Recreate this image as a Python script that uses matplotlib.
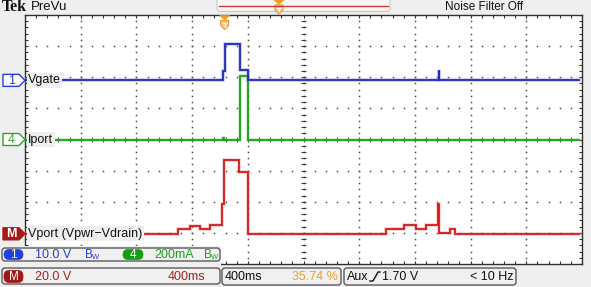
import matplotlib
matplotlib.use('Agg')
import matplotlib.pyplot as plt
import numpy as np
from matplotlib.patches import FancyBboxPatch, Polygon, Rectangle

# ---------------- data ----------------
ms_per_div = 400
n_xdiv = 10
n_ydiv = 8

# Vgate (channel 1), volts
vgate_t = [0, 1419, 1434, 1541, 1598, 2970, 2976, 3980]
vgate_v = [0, 2.9, 11.6, 3.2, 0, 3.2, 0, 0]
vgate_scale = 10.0
vgate_ground = 5.9

# Iport (channel 4), mA
iport_t = [0, 1419, 1427, 1541, 1598, 3980]
iport_ma = [0, 10, 0, 406, 0, 0]
iport_scale = 200.0
iport_ground = 4.0

# Vport (math), volts
vport_t = [0, 1097, 1183, 1254, 1326, 1415, 1427, 1534, 1598,
           2595, 2724, 2810, 2882, 2969, 2976, 3054, 3089, 3980]
vport_v = [0, 3.2, 5.2, 3.2, 5.8, 19.4, 47.7, 40.0, 0,
           3.0, 5.6, 3.2, 5.8, 19.4, 0.5, 3.2, 0, 0]
vport_scale = 20.0
vport_ground = 0.97

ch_names = ['Vgate', 'Iport', 'Vport (Vpwr\u2212Vdrain)']
ch_tags = ['1', '4', 'M']
row1_texts = ['10.0 V', '200mA']
row2_texts = ['20.0 V', '400ms']
horiz_texts = ['400ms', '35.74 %']
trig_texts = ['Aux', '1.70 V', '< 10 Hz']
trigger_ms = 1434

# ---------------- style ----------------
FONT = ['Liberation Sans Narrow', 'Liberation Sans', 'DejaVu Sans']
BG = '#efefef'
BLUE = '#1e2cb8'; BLUE_H = '#7a88e8'
GREEN = '#1b9e1b'; GREEN_H = '#86d486'
RED = '#d41a1a'; RED_H = '#f09090'
ORANGE = '#f0a020'

fig = plt.figure(figsize=(5.91, 2.87), dpi=100, facecolor=BG)
W, H = 591, 287
L, T, R, B = 25, 15, 582, 264
ax = fig.add_axes([L / W, 1 - B / H, (R - L) / W, (B - T) / H])
ax.set_facecolor('white')
ax.set_xlim(0, ms_per_div * n_xdiv)
ax.set_ylim(0, n_ydiv)
ax.set_xticks([]); ax.set_yticks([])
for s in ax.spines.values():
    s.set_color('#303030'); s.set_linewidth(1.0)

xmax = ms_per_div * n_xdiv
ys_minor = np.arange(0, n_ydiv + 0.001, 0.2)
xs_minor = np.arange(0, xmax + 0.1, ms_per_div / 5)
# graticule dots
for k in range(1, n_xdiv):
    ax.plot(np.full_like(ys_minor, k * ms_per_div), ys_minor, ls='none',
            marker='s', ms=1.1, mew=0, color='#505050', zorder=1)
for j in range(1, n_ydiv):
    ax.plot(xs_minor, np.full_like(xs_minor, j), ls='none',
            marker='s', ms=1.1, mew=0, color='#505050', zorder=1)
# center cross ticks
cx = xmax / 2
ax.hlines(ys_minor, cx - 16, cx + 16, color='#404040', lw=0.8, zorder=1)
ax.vlines(xs_minor, n_ydiv / 2 - 0.07, n_ydiv / 2 + 0.07, color='#404040', lw=0.8, zorder=1)
# border ticks
tl_x = 22
tl_y = 0.1
ax.vlines(xs_minor, n_ydiv - tl_y, n_ydiv, color='#303030', lw=0.8)
ax.vlines(xs_minor, 0, tl_y, color='#303030', lw=0.8)
ax.hlines(ys_minor, 0, tl_x, color='#303030', lw=0.8)
ax.hlines(ys_minor, xmax - tl_x, xmax, color='#303030', lw=0.8)


def trace(t, v, scale, ground, c, ch):
    y = ground + np.asarray(v) / scale
    ax.step(t, y, where='post', color=ch, lw=2.6, alpha=0.45, zorder=3,
            solid_joinstyle='miter')
    ax.step(t, y, where='post', color=c, lw=1.3, zorder=4,
            solid_joinstyle='miter')


trace(vport_t, vport_v, vport_scale, vport_ground, RED, RED_H)
trace(iport_t, iport_ma, iport_scale, iport_ground, GREEN, GREEN_H)
trace(vgate_t, vgate_v, vgate_scale, vgate_ground, BLUE, BLUE_H)

# ---------------- overlay ----------------
ov = fig.add_axes([0, 0, 1, 1], zorder=5)
ov.set_xlim(0, W); ov.set_ylim(H, 0)
ov.axis('off')
ov.patch.set_alpha(0)

# top bar
ov.text(2, 7, 'Tek', family=['Liberation Serif', 'DejaVu Serif'], weight='bold',
        fontsize=11.5, va='center', ha='left', color='#111')
ov.text(31, 7.5, 'PreVu', family=FONT, fontsize=9.5, va='center', ha='left', color='#111')
ov.text(523, 6.5, 'Noise Filter Off', family=FONT, fontsize=8.5, va='center',
        ha='right', color='#111')
ov.add_patch(FancyBboxPatch((217, -4), 173, 15.5, boxstyle='round,pad=0,rounding_size=3',
                            fc='#f6f6f6', ec='#c8c8c8', lw=0.8))
ov.plot([219, 388], [6, 6], color='#cc3a3a', lw=1.0)


def marker(x, y0):
    ov.add_patch(Polygon([(x - 5, y0), (x + 5, y0), (x, y0 + 4.5)], closed=True,
                         fc=ORANGE, ec=ORANGE, lw=0.5))
    ov.add_patch(Polygon([(x - 4, y0 + 5), (x + 4, y0 + 5), (x + 4, y0 + 10),
                          (x, y0 + 14), (x - 4, y0 + 10)], closed=True,
                         fc='#f8c890', ec='#e89a30', lw=0.8))
    ov.plot([x - 2, x + 2], [y0 + 7.5, y0 + 7.5], color='white', lw=0.8)
    ov.plot([x, x], [y0 + 7.5, y0 + 11], color='white', lw=0.8)


marker(279, 0)
trig_px = L + trigger_ms / xmax * (R - L)
marker(trig_px, 15.5)

# channel markers and labels
grounds = [vgate_ground, iport_ground, vport_ground]
edge_cols = ['#2a3ae0', '#30a030', '#a81818']
fills = ['white', 'white', '#a81818']
tcols = ['#2a3ae0', '#30a030', 'white']
for name, tag, g, ec, fc, tc in zip(ch_names, ch_tags, grounds, edge_cols, fills, tcols):
    yc = B - g / n_ydiv * (B - T)
    ov.add_patch(Polygon([(3, yc - 6), (19, yc - 6), (25, yc), (19, yc + 6), (3, yc + 6)],
                         closed=True, fc=fc, ec=ec, lw=1.0))
    ov.text(11.5, yc + 0.5, tag, family=FONT, fontsize=9, color=tc, ha='center', va='center',
            weight='bold' if tag == 'M' else 'normal')
    ov.text(28, yc, name, family=FONT, fontsize=9, color='#111', ha='left', va='center',
            bbox=dict(boxstyle='square,pad=0.12', fc=BG, ec='none'))

# bottom panel
ov.add_patch(Rectangle((0, 246), 221, 41, fc=BG, ec='none'))


def box(x, y, w, h):
    ov.add_patch(FancyBboxPatch((x, y), w, h, boxstyle='round,pad=0,rounding_size=3',
                                fc='#f0f0f0', ec='#5a5a5a', lw=1.0))


def pill(x, y, w, h, c, txt):
    ov.add_patch(FancyBboxPatch((x, y), w, h, boxstyle='round,pad=0,rounding_size=5',
                                fc=c, ec=c, lw=0.5))
    ov.text(x + w / 2, y + h / 2 + 0.5, txt, family=FONT, fontsize=8.5, color='white',
            ha='center', va='center')


box(2, 248, 218, 13)
box(2, 268, 218, 16)
box(222, 268, 119, 17)
box(344, 268, 172, 17)

BLUE_T = '#2a3ad8'; GREEN_T = '#20a020'; RED_T = '#a82020'
pill(4, 249.5, 19, 10, '#2040e0', '1')
ov.text(35, 255, row1_texts[0], family=FONT, fontsize=9, color=BLUE_T, va='center')
ov.text(85, 254.5, 'B', family=FONT, fontsize=8.5, color=BLUE_T, va='center')
ov.text(91.5, 257.5, 'W', family=FONT, fontsize=5.5, color=BLUE_T, va='center')
pill(123, 249.5, 20, 10, '#10a010', '4')
ov.text(154, 255, row1_texts[1], family=FONT, fontsize=9, color=GREEN_T, va='center')
ov.text(204, 254.5, 'B', family=FONT, fontsize=8.5, color=GREEN_T, va='center')
ov.text(210.5, 257.5, 'W', family=FONT, fontsize=5.5, color=GREEN_T, va='center')

pill(4, 270.5, 19, 12, '#a01818', 'M')
ov.text(35, 276.5, row2_texts[0], family=FONT, fontsize=9, color=RED_T, va='center')
ov.text(205, 276.5, row2_texts[1], family=FONT, fontsize=9, color=RED_T, va='center', ha='right')

ov.text(225, 276.5, horiz_texts[0], family=FONT, fontsize=9, color='#111', va='center')
ov.text(338, 276.5, horiz_texts[1], family=FONT, fontsize=9, color=ORANGE, va='center', ha='right')

ov.text(347, 276.5, trig_texts[0], family=FONT, fontsize=9, color='#111', va='center')
ov.plot([370, 373, 378, 380], [281, 281, 272, 272], color='#111', lw=1.0)
ov.text(382, 276.5, trig_texts[1], family=FONT, fontsize=9, color='#111', va='center')
ov.text(514, 276.5, trig_texts[2], family=FONT, fontsize=9, color='#111', va='center', ha='right')

fig.savefig('out.png', dpi=100, facecolor=BG)
